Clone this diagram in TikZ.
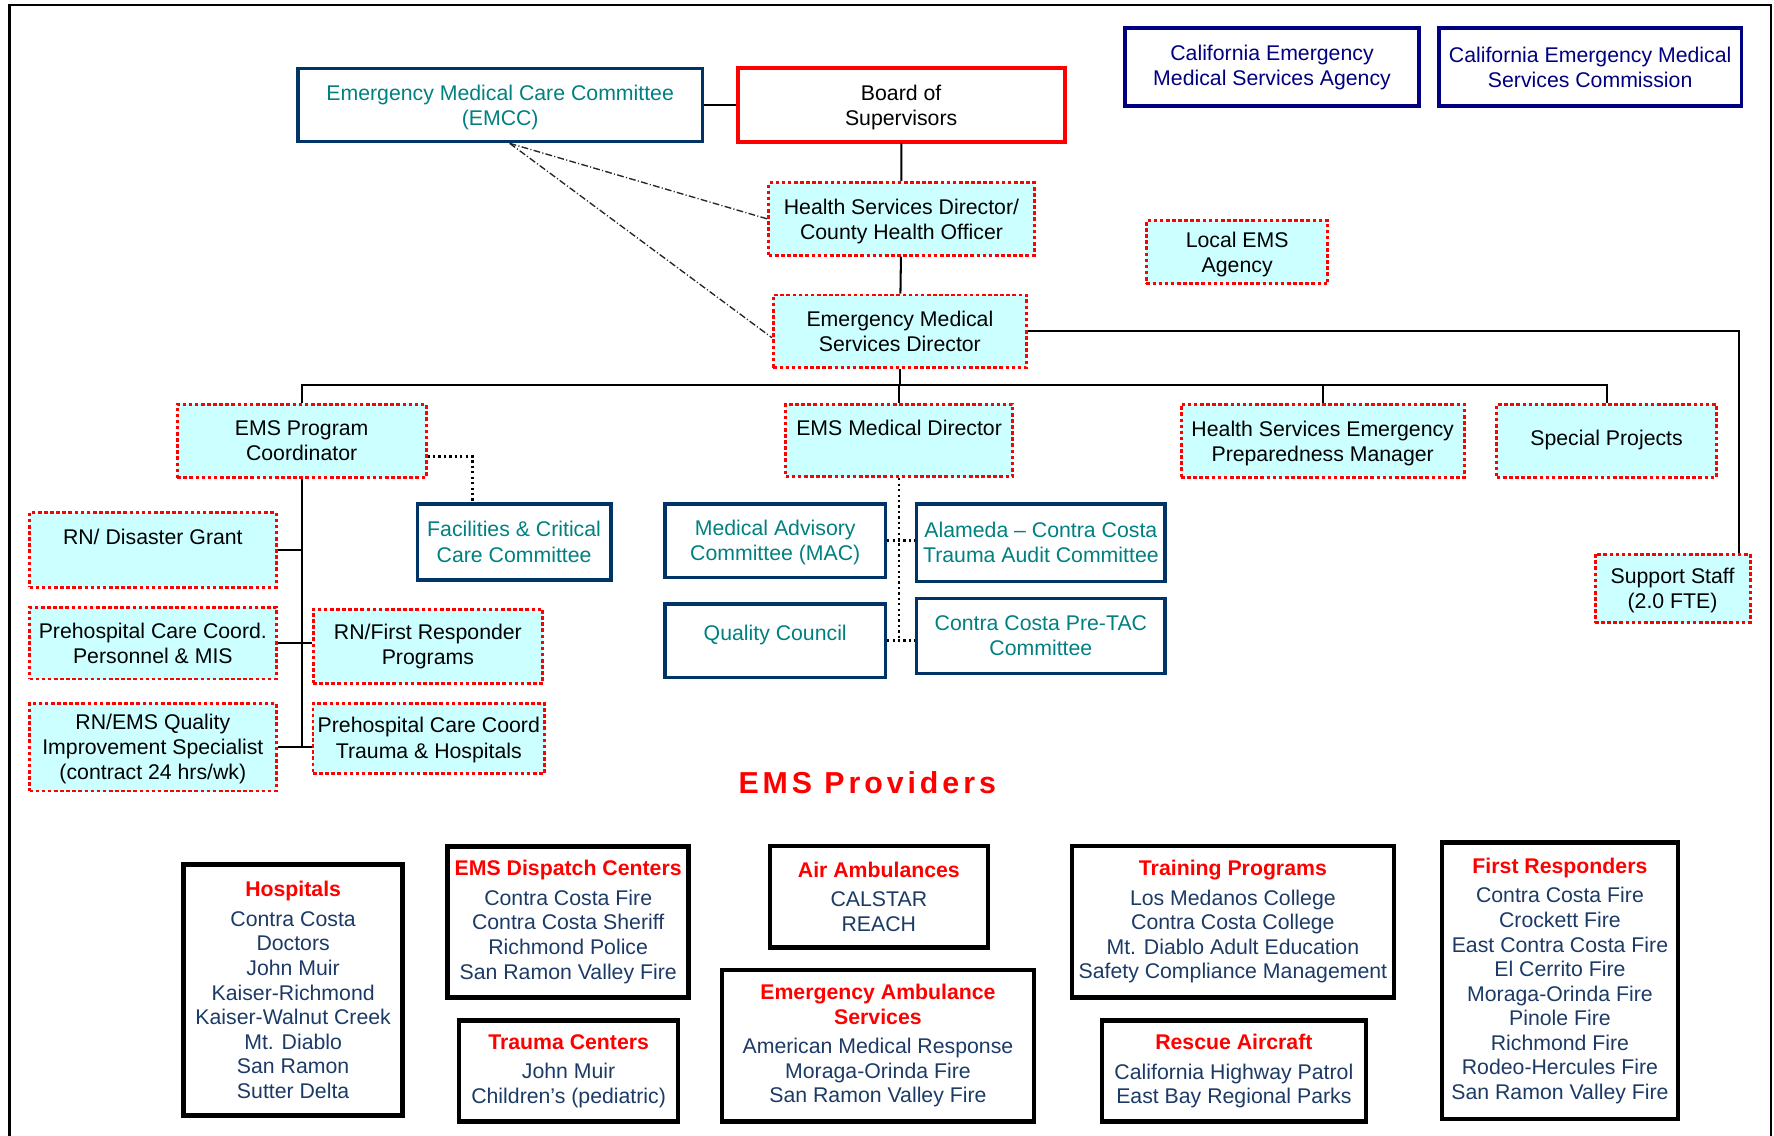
\documentclass[tikz,border=0pt]{standalone}
\usepackage{fontspec}
\setmainfont{Liberation Sans}
\usepackage{xcolor}
\usepackage{tikz}

\definecolor{cyanfill}{HTML}{CCFFFF}
\definecolor{navy}{HTML}{000080}
\definecolor{slate}{HTML}{003366}
\definecolor{tealtext}{HTML}{008080}
\definecolor{provblue}{HTML}{1B3A66}

\newcommand{\orgfont}{\fontsize{9.4pt}{11.1pt}\selectfont}
\newcommand{\provfont}{\fontsize{9.4pt}{10.85pt}\selectfont}
\newcommand{\provtitle}[1]{\textcolor{red}{\bfseries #1}\\[2.2pt]}

\begin{document}
\begin{tikzpicture}[x = 0.5pt, y = -0.5pt,
		boxsize/.style 2 args = {minimum width = #1*\px, minimum height = #2*\px},
		base/.style = {align = center, inner sep = 0pt, font = \orgfont},
		orgbox/.style = {base, draw = red, line width = 1.3pt, dash pattern = on 1.6pt off 1.1pt, fill = cyanfill},
		combox/.style = {base, draw = slate, line width = 1.5pt, text = tealtext},
		statebox/.style = {base, draw = navy, line width = 1.7pt, text = navy},
		boardbox/.style = {base, draw = red, line width = 1.8pt},
		provbox/.style = {base, draw = black, line width = 2pt, text = provblue, font = \provfont},
		link/.style = {line width = 0.9pt},
		dotlink/.style = {line width = 1.2pt, dash pattern = on 1pt off 1.4pt},
		emcclink/.style = {line width = 0.6pt, black!85, dash pattern = on 3pt off 1pt on 0.5pt off 1pt}]
			\def\px{0.5pt};
			
			\useasboundingbox (0,0) rectangle (1568,1004);
			\draw [line width = 1pt] (8.5,1004) -- (8.5,4.5) -- (1565.5,4.5) -- (1565.5,1004);
			
			\node [statebox, boxsize = {260}{68.7}] (cemsa) at (1124.3,59.4) {California Emergency\\Medical Services Agency};
			\node [statebox, boxsize = {267.5}{68.7}] (cemsc) at (1405.5,59.4) {California Emergency Medical\\Services Commission};
			
			\node [combox, boxsize = {357.6}{64.8}, text depth = -1pt] (emcc) at (442.1,92.8) {Emergency Medical Care Committee\\(EMCC)};
			\node [boardbox, boxsize = {289}{64.8}, text depth = -1pt] (board) at (796.5,92.8) {Board of\\Supervisors};
			
			\begin{scope}[every node/.style = {orgbox}]
				\node [boxsize = {234.5}{64}, text depth = -0.5pt] (hsd) at (796.8,193.5) {Health Services Director/\\County Health Officer};
				\node [boxsize = {160.4}{56}, text depth = -1.5pt] (lems) at (1093.5,223) {Local EMS\\Agency};
				\node [boxsize = {223.6}{64.3}] (emsd) at (795.4,292.9) {Emergency Medical\\Services Director};
				\node [boxsize = {220}{64.8}, text depth = -2.5pt] (epc) at (266.6,389.8) {EMS Program\\Coordinator};
				\node [boxsize = {200.6}{64}, text depth = -3pt] (emd) at (794.7,389.4) {EMS Medical Director\\\mbox{}};
				\node [boxsize = {250.4}{64.5}, text depth = -0.5pt] (hsepm) at (1169.1,389.7) {Health Services Emergency\\Preparedness Manager};
				\node [boxsize = {194}{64.5}, text depth = 3pt] (spp) at (1420,389.7) {Special Projects};
				\node [boxsize = {137}{60.6}, text depth = -1.5pt] (supp) at (1478.3,520) {Support Staff\\(2.0 FTE)};
				\node [boxsize = {218}{66}] (rndg) at (135.1,486) {RN/ Disaster Grant\\\mbox{}};
				\node [boxsize = {218}{63.3}] (pccp) at (135.1,568.5) {Prehospital Care Coord.\\Personnel \& MIS};
				\node [boxsize = {218}{77.5}, text depth = -4.3pt] (rnqi) at (135.1,660.4) {RN/EMS Quality\\Improvement Specialist\\(contract 24 hrs/wk)};
				\node [boxsize = {203}{65.7}] (rnfr) at (378.2,571.2) {RN/First Responder\\Programs};
				\node [boxsize = {204.7}{62}, text depth = 0.5pt] (pcth) at (379,652.6) {Prehospital Care Coord\\Trauma \& Hospitals};
			\end{scope}
			
			\begin{scope}[every node/.style = {combox}]
				\node [boxsize = {171.3}{67}] (fcc) at (454.4,479) {Facilities \& Critical\\Care Committee};
				\node [boxsize = {194.8}{64.8}, text depth = -2.5pt] (mac) at (685.2,477.9) {Medical Advisory\\Committee (MAC)};
				\node [boxsize = {219.4}{68.6}] (atac) at (920,479.8) {Alameda – Contra Costa\\Trauma Audit Committee};
				\node [boxsize = {194.8}{65.2}, text depth = 7pt] (qc) at (685.2,566.4) {Quality Council};
				\node [boxsize = {219.4}{66.3}, text depth = -2.5pt] (ptac) at (920,562) {Contra Costa Pre-TAC\\Committee};
			\end{scope}
			
			\begin{scope}[link]
				\draw (emcc) -- (board);
				\draw (board) -- (hsd);
				\draw (hsd) -- (emsd);
				\draw (emsd.east) -| ([xshift = -5.4pt] supp.north east);
				
				\coordinate (bar) at (795.4,340.3);
				\draw (emsd.south) -- (emsd.south |- bar);
				\draw (epc.north) |- (bar) -| (spp.north);
				\draw (emd.north) -- (emd.north |- bar);
				\draw (hsepm.north) -- (hsepm.north |- bar);
				
				\draw (epc.south) -- (epc.south |- rnqi.east);
				\draw (rndg.east) -- (rndg.east -| epc.south);
				\draw (pccp.east) -- (pccp.east -| rnfr.west);
				\draw (rnqi.east) -- (rnqi.east -| pcth.west);
			\end{scope}
			
			\begin{scope}[dotlink]
				\draw ([yshift = -6.9pt] epc.east) -| ([xshift = -18.3pt] fcc.north);
				\draw (emd.south) -- (emd.south |- qc.east);
				\draw (mac.east) -- (mac.east -| atac.west);
				\draw (qc.east) -- (qc.east -| ptac.west);
			\end{scope}
			
			\begin{scope}[emcclink]
				\draw ([xshift = 4.2pt] emcc.south) -- (hsd.west);
				\draw ([xshift = 4.2pt] emcc.south) -- ([yshift = -2.8pt] emsd.west);
			\end{scope}
			
			\node [text = red, font = \fontsize{13.4pt}{16pt}\selectfont\bfseries\addfontfeature{LetterSpace = 13}] (prov) at (766.5,691.6) {EMS Providers};
			
			\begin{scope}[every node/.style = {provbox}]
				\node [boxsize = {193.6}{222}] (hosp) at (259.1,875) {\provtitle{Hospitals}Contra Costa\\Doctors\\John Muir\\Kaiser-Richmond\\Kaiser-Walnut Creek\\Mt. Diablo\\San Ramon\\Sutter Delta};
				\node [boxsize = {213}{133.2}] (disp) at (502.2,814.9) {\provtitle{EMS Dispatch Centers}Contra Costa Fire\\Contra Costa Sheriff\\Richmond Police\\San Ramon Valley Fire};
				\node [boxsize = {193.5}{89.3}] (trc) at (502.6,946.8) {\provtitle{Trauma Centers}John Muir\\Children’s (pediatric)};
				\node [boxsize = {192.5}{89.5}] (air) at (776.8,792.6) {\provtitle{Air Ambulances}CALSTAR\\REACH};
				\node [boxsize = {276}{134.1}] (eas) at (776,924.4) {\textcolor{red}{\bfseries Emergency Ambulance}\\\provtitle{Services}American Medical Response\\Moraga-Orinda Fire\\San Ramon Valley Fire};
				\node [boxsize = {284.5}{133.7}] (trp) at (1089.7,814.7) {\provtitle{Training Programs}Los Medanos College\\Contra Costa College\\Mt. Diablo Adult Education\\Safety Compliance Management};
				\node [boxsize = {233.2}{89.3}] (rsa) at (1090.6,946.8) {\provtitle{Rescue Aircraft}California Highway Patrol\\East Bay Regional Parks};
				\node [boxsize = {208.9}{244.5}] (fr) at (1378.8,867) {\provtitle{First Responders}Contra Costa Fire\\Crockett Fire\\East Contra Costa Fire\\El Cerrito Fire\\Moraga-Orinda Fire\\Pinole Fire\\Richmond Fire\\Rodeo-Hercules Fire\\San Ramon Valley Fire};
			\end{scope}
		\end{tikzpicture}
\end{document}
